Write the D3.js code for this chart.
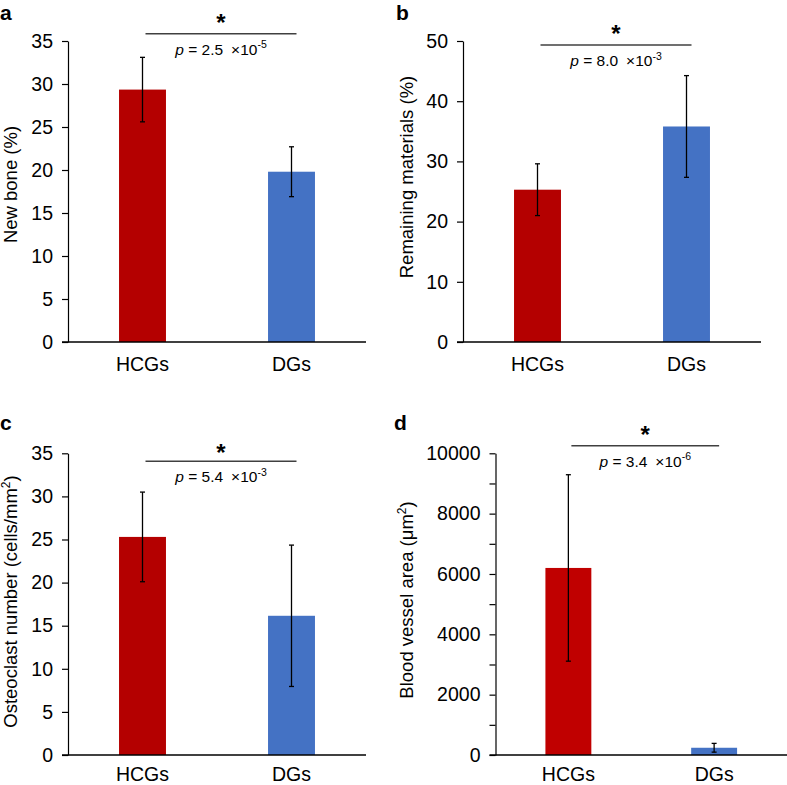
<!DOCTYPE html>
<html>
<head>
<meta charset="utf-8">
<script src="https://cdn.jsdelivr.net/npm/d3@7"></script>
<style>
  html, body { margin: 0; padding: 0; background: #fff; }
  svg { display: block; font-family: "Liberation Sans", Arial, sans-serif; }
</style>
</head>
<body>
<svg id="chart" width="787" height="785"></svg>
<script>
// ---------- data ----------
const categories = ["HCGs", "DGs"];

const newBoneMean = [29.35, 19.8];
const newBoneSD = [3.75, 2.9];
const newBoneTicks = [0, 5, 10, 15, 20, 25, 30, 35];

const remainingMean = [25.3, 35.8];
const remainingSD = [4.3, 8.45];
const remainingTicks = [0, 10, 20, 30, 40, 50];

const osteoclastMean = [25.3, 16.15];
const osteoclastSD = [5.2, 8.2];
const osteoclastTicks = [0, 5, 10, 15, 20, 25, 30, 35];

const vesselMean = [6200, 240];
const vesselSD = [3090, 145];
const vesselTicks = [0, 1000, 2000, 3000, 4000, 5000, 6000, 7000, 8000, 9000, 10000];
const vesselTickLabels = ["0", "", "2000", "", "4000", "", "6000", "", "8000", "", "10000"];

const panelLetters = ["a", "b", "c", "d"];
const pMantissa = ["2.5", "8.0", "5.4", "3.4"];
const pExponent = ["-5", "-3", "-3", "-6"];

// ---------- drawing ----------
const svg = d3.select("#chart");
const TICK_FONT = 19.5;
const LABEL_FONT = 18.5;

function drawPanel(cfg) {
  const g = svg.append("g");
  const y = d3.scaleLinear().domain([0, cfg.max]).range([cfg.bottom, cfg.top]);
  const x = d3.scaleBand().domain(categories).range([cfg.left, cfg.right])
    .paddingInner(0.685).paddingOuter(0.3425);

  // bars
  g.selectAll("rect.bar").data(categories).enter().append("rect")
    .attr("x", d => x(d))
    .attr("width", x.bandwidth())
    .attr("y", (d, i) => y(cfg.mean[i]))
    .attr("height", (d, i) => y(0) - y(cfg.mean[i]))
    .attr("fill", (d, i) => cfg.colors[i]);

  // error bars
  const eb = g.selectAll("g.err").data(categories).enter().append("g")
    .attr("stroke", "#000").attr("stroke-width", 1.3);
  eb.append("line")
    .attr("x1", d => x(d) + x.bandwidth() / 2).attr("x2", d => x(d) + x.bandwidth() / 2)
    .attr("y1", (d, i) => y(cfg.mean[i] + cfg.sd[i]))
    .attr("y2", (d, i) => y(cfg.mean[i] - cfg.sd[i]));
  eb.append("line")
    .attr("x1", d => x(d) + x.bandwidth() / 2 - 2.5).attr("x2", d => x(d) + x.bandwidth() / 2 + 2.5)
    .attr("y1", (d, i) => y(cfg.mean[i] + cfg.sd[i])).attr("y2", (d, i) => y(cfg.mean[i] + cfg.sd[i]));
  eb.append("line")
    .attr("x1", d => x(d) + x.bandwidth() / 2 - 2.5).attr("x2", d => x(d) + x.bandwidth() / 2 + 2.5)
    .attr("y1", (d, i) => y(cfg.mean[i] - cfg.sd[i])).attr("y2", (d, i) => y(cfg.mean[i] - cfg.sd[i]));

  // y axis
  const yAxis = d3.axisLeft(y).tickValues(cfg.ticks).tickSize(6).tickSizeOuter(0).tickPadding(9);
  if (cfg.tickLabels) yAxis.tickFormat((d, i) => cfg.tickLabels[i]);
  else yAxis.tickFormat(d3.format("d"));
  const ya = g.append("g").attr("transform", `translate(${cfg.left},0)`).call(yAxis);
  ya.selectAll("text").attr("font-size", TICK_FONT).attr("font-family", "Liberation Sans, Arial, sans-serif").attr("fill", "#000");
  ya.selectAll("line").attr("stroke", "#000").attr("stroke-width", 1.2);
  ya.select(".domain").attr("stroke", "#000").attr("stroke-width", 1.2);

  // x axis labels
  const xAxis = d3.axisBottom(x).tickSize(0).tickPadding(cfg.catPad);
  const xa = g.append("g").attr("transform", `translate(0,${cfg.bottom})`).call(xAxis);
  xa.select(".domain").remove();
  xa.selectAll("text").attr("font-size", TICK_FONT).attr("font-family", "Liberation Sans, Arial, sans-serif").attr("fill", "#000");
  // x axis line
  g.append("line")
    .attr("x1", cfg.left - 6).attr("x2", cfg.right)
    .attr("y1", y(0)).attr("y2", y(0))
    .attr("stroke", "#000").attr("stroke-width", 1.4);

  // y label
  const yl = g.append("text")
    .attr("transform", `translate(${cfg.ylabelX},${cfg.ylabelY}) rotate(-90)`)
    .attr("text-anchor", "middle").attr("font-size", LABEL_FONT).attr("fill", "#000");
  cfg.ylabel(yl);

  // significance bar
  const c1 = x(categories[0]) + x.bandwidth() / 2;
  const c2 = x(categories[1]) + x.bandwidth() / 2;
  const lx1 = c1 + 3, lx2 = c2 + 5, mid = (lx1 + lx2) / 2;
  g.append("line").attr("x1", lx1).attr("x2", lx2)
    .attr("y1", cfg.sigY).attr("y2", cfg.sigY)
    .attr("stroke", "#404040").attr("stroke-width", 1.6);
  g.append("text").attr("x", mid).attr("y", cfg.sigY - cfg.starGap)
    .attr("text-anchor", "middle").attr("font-size", 24).attr("font-weight", "bold")
    .attr("fill", "#000").text("*");
  const pt = g.append("text").attr("x", mid).attr("y", cfg.sigY + 21)
    .attr("text-anchor", "middle").attr("font-size", 15.5).attr("fill", "#000");
  pt.append("tspan").attr("font-style", "italic").text("p");
  pt.append("tspan").text(" = " + pMantissa[cfg.idx]);
  pt.append("tspan").attr("dx", 8).text("\u00d710");
  pt.append("tspan").attr("dy", -6.5).attr("font-size", 10.5).text(pExponent[cfg.idx]);

  // panel letter
  g.append("text").attr("x", cfg.letterX).attr("y", cfg.letterY)
    .attr("font-size", 21).attr("font-weight", "bold").attr("fill", "#000")
    .text(panelLetters[cfg.idx]);
}

const RED = "#B40000", RED_D = "#C00000", BLUE = "#4472C4";

drawPanel({
  idx: 0, mean: newBoneMean, sd: newBoneSD, ticks: newBoneTicks, max: 35,
  left: 68, right: 366, top: 41, bottom: 342, colors: [RED, BLUE], catPad: 15,
  sigY: 33.7, starGap: 3, letterX: 0, letterY: 19.5,
  ylabelX: 17, ylabelY: 184.5,
  ylabel: t => t.text("New bone (%)")
});
drawPanel({
  idx: 1, mean: remainingMean, sd: remainingSD, ticks: remainingTicks, max: 50,
  left: 463, right: 761, top: 41, bottom: 342, colors: [RED, BLUE], catPad: 15,
  sigY: 45, starGap: 3, letterX: 396, letterY: 19.5,
  ylabelX: 413, ylabelY: 177,
  ylabel: t => t.text("Remaining materials (%)")
});
drawPanel({
  idx: 2, mean: osteoclastMean, sd: osteoclastSD, ticks: osteoclastTicks, max: 35,
  left: 68, right: 366, top: 453.3, bottom: 755, colors: [RED, BLUE], catPad: 12.5,
  sigY: 461.3, starGap: 0, letterX: 0, letterY: 429.5,
  ylabelX: 17, ylabelY: 601.5,
  ylabel: t => {
    t.append("tspan").text("Osteoclast number (cells/mm");
    t.append("tspan").attr("dy", -7).attr("font-size", 12).text("2");
    t.append("tspan").attr("dy", 7).text(")");
  }
});
drawPanel({
  idx: 3, mean: vesselMean, sd: vesselSD, ticks: vesselTicks, tickLabels: vesselTickLabels, max: 10000,
  left: 495.5, right: 787, top: 453.3, bottom: 755, colors: [RED_D, BLUE], catPad: 12.5,
  sigY: 445.7, starGap: 3, letterX: 394, letterY: 429.5,
  ylabelX: 413, ylabelY: 600,
  ylabel: t => {
    t.append("tspan").text("Blood vessel area (\u03bcm");
    t.append("tspan").attr("dy", -7).attr("font-size", 12).text("2");
    t.append("tspan").attr("dy", 7).text(")");
  }
});
</script>
</body>
</html>
